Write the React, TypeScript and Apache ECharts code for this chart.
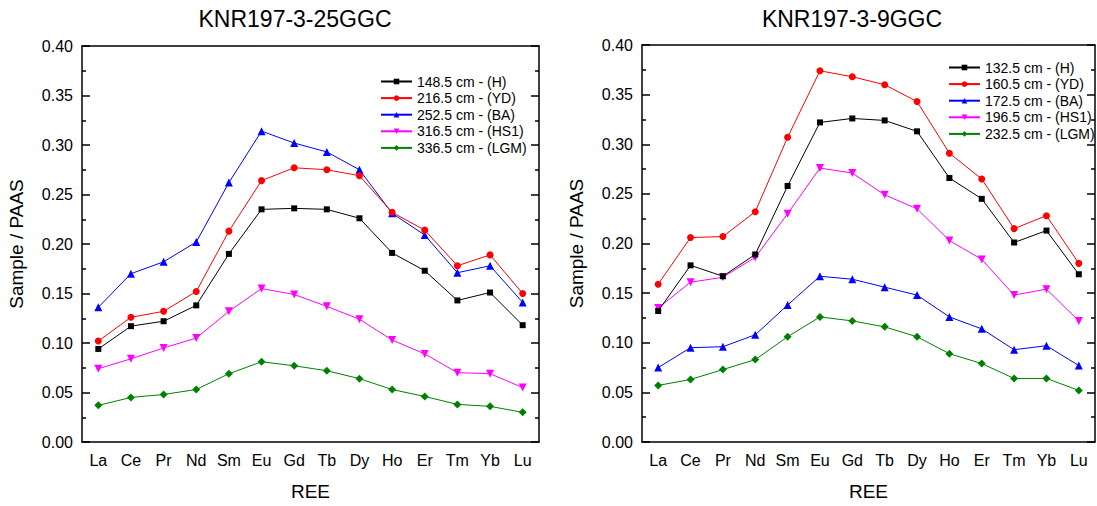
import React, { useEffect, useRef } from "react";
import * as echarts from "echarts";

const categories = ["La", "Ce", "Pr", "Nd", "Sm", "Eu", "Gd", "Tb", "Dy", "Ho", "Er", "Tm", "Yb", "Lu"];
const yTicks = { min: 0, max: 0.4, interval: 0.05 };

const leftTitle = "KNR197-3-25GGC";
const rightTitle = "KNR197-3-9GGC";

const leftNames = ["148.5 cm - (H)", "216.5 cm - (YD)", "252.5 cm - (BA)", "316.5 cm - (HS1)", "336.5 cm - (LGM)"];
const leftH = [0.094, 0.117, 0.122, 0.138, 0.190, 0.235, 0.236, 0.235, 0.226, 0.191, 0.173, 0.143, 0.151, 0.118];
const leftYD = [0.102, 0.126, 0.132, 0.152, 0.213, 0.264, 0.277, 0.275, 0.269, 0.232, 0.214, 0.178, 0.189, 0.150];
const leftBA = [0.136, 0.170, 0.182, 0.202, 0.262, 0.314, 0.302, 0.293, 0.275, 0.231, 0.209, 0.171, 0.178, 0.141];
const leftHS1 = [0.074, 0.084, 0.095, 0.105, 0.132, 0.155, 0.149, 0.137, 0.124, 0.103, 0.089, 0.070, 0.069, 0.055];
const leftLGM = [0.037, 0.045, 0.048, 0.053, 0.069, 0.081, 0.077, 0.072, 0.064, 0.053, 0.046, 0.038, 0.036, 0.030];

const rightNames = ["132.5 cm - (H)", "160.5 cm - (YD)", "172.5 cm - (BA)", "196.5 cm - (HS1)", "232.5 cm - (LGM)"];
const rightH = [0.132, 0.178, 0.167, 0.189, 0.258, 0.322, 0.326, 0.324, 0.313, 0.266, 0.245, 0.201, 0.213, 0.169];
const rightYD = [0.159, 0.206, 0.207, 0.232, 0.307, 0.374, 0.368, 0.360, 0.343, 0.291, 0.265, 0.215, 0.228, 0.180];
const rightBA = [0.075, 0.095, 0.096, 0.108, 0.138, 0.167, 0.164, 0.156, 0.148, 0.126, 0.114, 0.093, 0.097, 0.077];
const rightHS1 = [0.135, 0.161, 0.166, 0.186, 0.230, 0.276, 0.271, 0.249, 0.235, 0.203, 0.184, 0.148, 0.154, 0.122];
const rightLGM = [0.057, 0.063, 0.073, 0.083, 0.106, 0.126, 0.122, 0.116, 0.106, 0.089, 0.079, 0.064, 0.064, 0.052];

const colors = ["#000000", "#ff0000", "#0000ff", "#ff00ff", "#008000"];
const symbols = ["rect", "circle", "triangle", "path://M0,0 L10,0 L5,9 Z", "diamond"];
const symbolSizes = [6, 7, 8, 8, 8];

const FONT = 'Arial, "Liberation Sans", sans-serif';

export default function App() {
  const ref = useRef<HTMLDivElement>(null);

  useEffect(() => {
    document.body.style.margin = "0";
    if (!ref.current) return;
    const chart = echarts.init(ref.current, null, { renderer: "svg" });

    const grids = [
      { left: 82, top: 46, width: 457, height: 398 },
      { left: 642, top: 45, width: 453, height: 398 },
    ];

    const xAxes: any[] = [];
    const yAxes: any[] = [];
    grids.forEach((_, gi) => {
      xAxes.push({
        type: "category",
        gridIndex: gi,
        position: "bottom",
        data: categories,
        boundaryGap: true,
        name: "REE",
        nameLocation: "middle",
        nameGap: 40,
        nameTextStyle: { fontSize: 19, color: "#000", fontFamily: FONT },
        axisLine: { onZero: false, lineStyle: { color: "#000", width: 1.5 } },
        axisTick: { inside: true, alignWithLabel: true, length: 8, lineStyle: { color: "#000", width: 1.5 } },
        axisLabel: { fontSize: 16, color: "#000", margin: 10, fontFamily: FONT },
        splitLine: { show: false },
      });
      xAxes.push({
        type: "category",
        gridIndex: gi,
        position: "top",
        data: categories,
        boundaryGap: true,
        axisLine: { onZero: false, lineStyle: { color: "#000", width: 1.5 } },
        axisTick: { inside: true, alignWithLabel: true, length: 8, lineStyle: { color: "#000", width: 1.5 } },
        axisLabel: { show: false },
        splitLine: { show: false },
      });
      yAxes.push({
        type: "value",
        gridIndex: gi,
        position: "left",
        min: yTicks.min,
        max: yTicks.max,
        interval: yTicks.interval,
        name: "Sample / PAAS",
        nameLocation: "middle",
        nameGap: 56,
        nameTextStyle: { fontSize: 19, color: "#000", fontFamily: FONT },
        axisLine: { show: true, onZero: false, lineStyle: { color: "#000", width: 1.5 } },
        axisTick: { show: true, inside: true, length: 8, lineStyle: { color: "#000", width: 1.5 } },
        minorTick: { show: true, splitNumber: 2, length: 4, lineStyle: { color: "#000", width: 1.5 } },
        axisLabel: {
          fontSize: 16,
          color: "#000",
          margin: 9,
          fontFamily: FONT,
          formatter: (v: number) => v.toFixed(2),
        },
        splitLine: { show: false },
      });
      yAxes.push({
        type: "value",
        gridIndex: gi,
        position: "right",
        min: yTicks.min,
        max: yTicks.max,
        interval: yTicks.interval,
        axisLine: { show: true, onZero: false, lineStyle: { color: "#000", width: 1.5 } },
        axisTick: { show: true, inside: true, length: 8, lineStyle: { color: "#000", width: 1.5 } },
        minorTick: { show: true, splitNumber: 2, length: 4, lineStyle: { color: "#000", width: 1.5 } },
        axisLabel: { show: false },
        splitLine: { show: false },
      });
    });

    const leftData = [leftH, leftYD, leftBA, leftHS1, leftLGM];
    const rightData = [rightH, rightYD, rightBA, rightHS1, rightLGM];

    const mkSeries = (names: string[], data: number[][], gi: number) =>
      names.map((name, i) => ({
        type: "line",
        name,
        xAxisIndex: gi * 2,
        yAxisIndex: gi * 2,
        data: data[i],
        symbol: symbols[i],
        symbolSize: symbolSizes[i],
        showAllSymbol: true,
        color: colors[i],
        lineStyle: { color: colors[i], width: 1 },
        itemStyle: { color: colors[i] },
        z: 10 - i,
      }));

    const legendCommon = {
      orient: "vertical",
      itemWidth: 31,
      itemHeight: 7,
      itemGap: 2.6,
      textStyle: { fontSize: 14, color: "#000", fontFamily: FONT, lineHeight: 14 },
      padding: 0,
    };

    chart.setOption({
      animation: false,
      backgroundColor: "#ffffff",
      grid: grids,
      xAxis: xAxes,
      yAxis: yAxes,
      legend: [
        { ...legendCommon, data: leftNames, left: 380, top: 74.5 },
        { ...legendCommon, data: rightNames, left: 948, top: 60.5 },
      ],
      graphic: [
        {
          type: "text",
          x: 295,
          y: 19,
          style: { text: leftTitle, fontSize: 23, fill: "#000", fontFamily: FONT, textAlign: "center", textVerticalAlign: "middle" },
        },
        {
          type: "text",
          x: 852,
          y: 19,
          style: { text: rightTitle, fontSize: 23, fill: "#000", fontFamily: FONT, textAlign: "center", textVerticalAlign: "middle" },
        },
      ],
      series: [...mkSeries(leftNames, leftData, 0), ...mkSeries(rightNames, rightData, 1)],
    });

    return () => chart.dispose();
  }, []);

  return <div ref={ref} style={{ width: 1097, height: 506 }} />;
}
